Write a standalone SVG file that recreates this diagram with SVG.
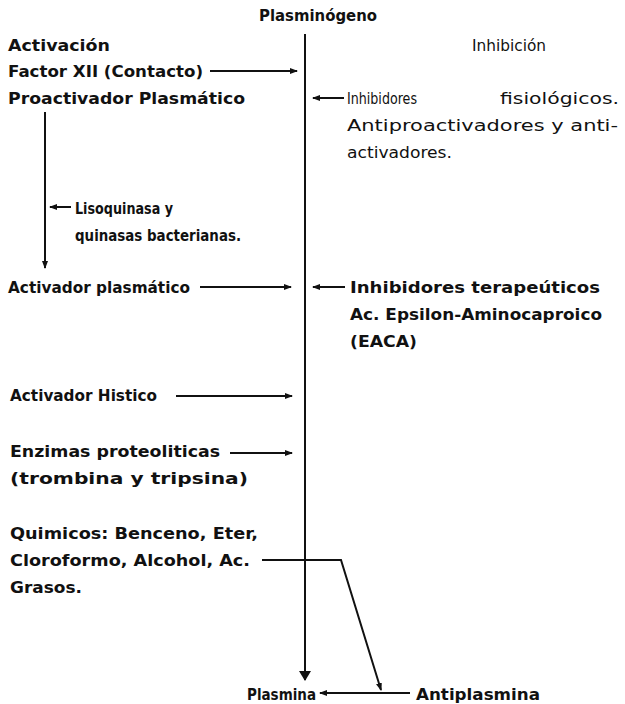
<svg xmlns="http://www.w3.org/2000/svg" width="625" height="704" viewBox="0 0 625 704">
<style>
text{font-family:"DejaVu Sans","Liberation Sans",sans-serif;font-size:15px;fill:#111;font-weight:bold}
text.l{font-weight:normal}
.c{stroke:#111;stroke-width:2;fill:none}
</style>
<defs>
<marker id="a" viewBox="0 0 8 8" refX="7" refY="4" markerWidth="8" markerHeight="8" markerUnits="userSpaceOnUse" orient="auto"><path d="M0,1 L8,4 L0,7 Z" fill="#111"/></marker>
<marker id="b" viewBox="0 0 10 12" refX="9" refY="6" markerWidth="10" markerHeight="12" markerUnits="userSpaceOnUse" orient="auto"><path d="M0,0 L10,6 L0,12 Z" fill="#111"/></marker>
</defs>
<rect width="625" height="704" fill="#fff"/>
<g id="connectors">
<line class="c" x1="305" y1="34" x2="305" y2="680" marker-end="url(#b)"/>
<line class="c" x1="210" y1="71" x2="297" y2="71" marker-end="url(#a)"/>
<line class="c" x1="344" y1="98" x2="313" y2="98" marker-end="url(#a)"/>
<line class="c" x1="45" y1="112" x2="45" y2="268" marker-end="url(#a)"/>
<line class="c" x1="71" y1="207" x2="50" y2="207" marker-end="url(#a)"/>
<line class="c" x1="200" y1="287" x2="291" y2="287" marker-end="url(#a)"/>
<line class="c" x1="345" y1="287" x2="313" y2="287" marker-end="url(#a)"/>
<line class="c" x1="176" y1="396" x2="292" y2="396" marker-end="url(#a)"/>
<line class="c" x1="230" y1="453" x2="292" y2="453" marker-end="url(#a)"/>
<polyline class="c" points="262,560 341,560 381,690" marker-end="url(#a)"/>
<line class="c" x1="410" y1="693" x2="320" y2="693" marker-end="url(#a)"/>
</g>
<g id="plasminogeno"><text x="259" y="21" textLength="118" lengthAdjust="spacingAndGlyphs">Plasminógeno</text></g>
<g id="activacion"><text x="8" y="51" textLength="102" lengthAdjust="spacingAndGlyphs">Activación</text></g>
<g id="inhibicion"><text class="l" x="472" y="51" textLength="74" lengthAdjust="spacingAndGlyphs">Inhibición</text></g>
<g id="factorXII"><text x="8" y="77" textLength="195" lengthAdjust="spacingAndGlyphs">Factor XII (Contacto)</text></g>
<g id="proactivador"><text x="8" y="104" textLength="237" lengthAdjust="spacingAndGlyphs">Proactivador Plasmático</text></g>
<g id="inhib-fisio">
<text class="l" x="347" y="104" textLength="70" lengthAdjust="spacingAndGlyphs">Inhibidores</text>
<text class="l" x="500" y="104" textLength="119" lengthAdjust="spacingAndGlyphs">fisiológicos.</text>
<text class="l" x="347" y="131" textLength="271" lengthAdjust="spacingAndGlyphs">Antiproactivadores y anti-</text>
<text class="l" x="347" y="158" textLength="105" lengthAdjust="spacingAndGlyphs">activadores.</text>
</g>
<g id="lisoquinasa">
<text x="75" y="214" textLength="98" lengthAdjust="spacingAndGlyphs">Lisoquinasa y</text>
<text x="75" y="241" textLength="166" lengthAdjust="spacingAndGlyphs">quinasas bacterianas.</text>
</g>
<g id="activador-plasmatico"><text x="8" y="293" textLength="182" lengthAdjust="spacingAndGlyphs">Activador plasmático</text></g>
<g id="inhib-terap">
<text x="350" y="293" textLength="250" lengthAdjust="spacingAndGlyphs">Inhibidores terapeúticos</text>
<text x="350" y="320" textLength="252" lengthAdjust="spacingAndGlyphs">Ac. Epsilon-Aminocaproico</text>
<text x="350" y="347" textLength="67" lengthAdjust="spacingAndGlyphs">(EACA)</text>
</g>
<g id="activador-histico"><text x="10" y="401" textLength="147" lengthAdjust="spacingAndGlyphs">Activador Histico</text></g>
<g id="enzimas">
<text x="10" y="457" textLength="210" lengthAdjust="spacingAndGlyphs">Enzimas proteoliticas</text>
<text x="10" y="484" textLength="238" lengthAdjust="spacingAndGlyphs">(trombina y tripsina)</text>
</g>
<g id="quimicos">
<text x="10" y="539" textLength="248" lengthAdjust="spacingAndGlyphs">Quimicos: Benceno, Eter,</text>
<text x="10" y="566" textLength="240" lengthAdjust="spacingAndGlyphs">Cloroformo, Alcohol, Ac.</text>
<text x="10" y="593" textLength="72" lengthAdjust="spacingAndGlyphs">Grasos.</text>
</g>
<g id="plasmina"><text x="247" y="700" textLength="69" lengthAdjust="spacingAndGlyphs">Plasmina</text></g>
<g id="antiplasmina"><text x="416" y="700" textLength="124" lengthAdjust="spacingAndGlyphs">Antiplasmina</text></g>
</svg>
